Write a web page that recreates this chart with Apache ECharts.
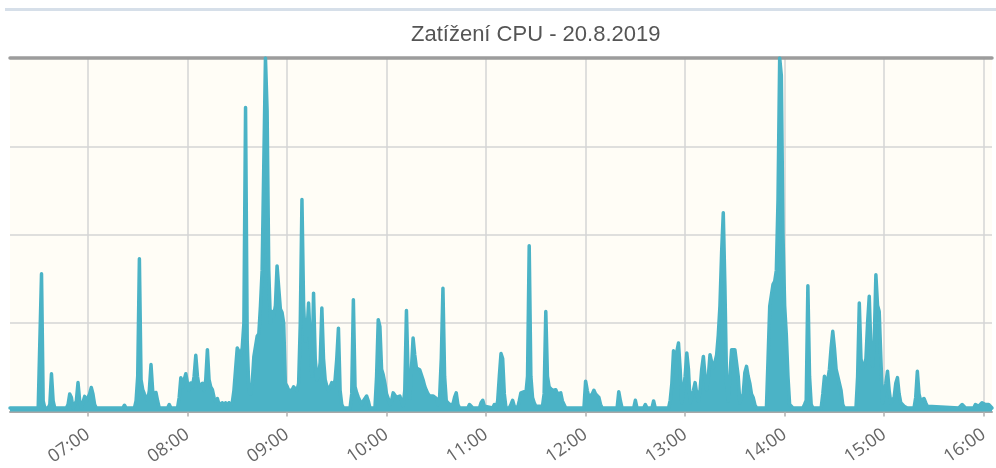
<!DOCTYPE html>
<html>
<head>
<meta charset="utf-8">
<script src="https://cdn.jsdelivr.net/npm/echarts@6/dist/echarts.min.js"></script>
<style>
html,body{margin:0;padding:0;background:#fff;}
#chart{width:996px;height:468px;}
</style>
</head>
<body>
<div id="chart"></div>
<script>
const chartTitle = 'Zatížení CPU - 20.8.2019';
const day = '2019-08-20';
const axisStart = '06:13';
const axisEnd = '16:05';
const yMax = 100;
const yStep = 25;

// [time, CPU load]
const cpuSamples = [
['06:13',1],['06:30',1],['06:31',1.5],['06:32',39],['06:33',3],['06:34',1],['06:36',1],['06:37',2],['06:38',10.7],['06:39',3],['06:40',1],
['06:47',1],['06:48',2],['06:49',5],['06:50',4],['06:51',1],['06:52',1],['06:53',3],['06:54',8.2],['06:55',3],['06:56',1],['06:57',1],['06:58',4.3],['06:59',3],
['07:00',4],['07:01',5],['07:02',6.8],['07:03',5],['07:04',2],['07:05',1],['07:21',1],['07:22',1.8],['07:23',1],['07:28',1],['07:29',3],['07:30',10],['07:31',43.2],['07:32',9],['07:33',6.2],['07:34',5],['07:35',4],['07:36',3],['07:37',6],['07:38',13.3],['07:39',6],['07:40',4],['07:41',5.4],['07:42',3],['07:43',1],['07:48',1],['07:49',2],['07:50',1],
['07:54',1],['07:55',4],['07:56',9.6],['07:57',7],['07:58',9],['07:59',10.7],['08:00',8],['08:01',6],['08:02',8.1],['08:03',7],['08:04',10],['08:05',15.9],['08:06',10],['08:07',7],['08:08',7.5],['08:09',8],['08:10',6],['08:11',9],['08:12',17.5],['08:13',9],['08:14',7],['08:15',6.2],['08:16',4],['08:17',3],['08:18',3.7],['08:19',2],['08:20',1.5],['08:21',2.5],['08:22',1.5],['08:23',2.5],['08:24',1],['08:25',2.5],['08:26',1.5],['08:27',2.5],
['08:28',6],['08:29',12],['08:30',18],['08:31',17],['08:32',16],['08:33',18],['08:34',25],['08:35',86],['08:36',20],['08:37',6],['08:38',5],['08:39',8],['08:40',15.5],['08:41',16],['08:42',21.3],['08:43',22],['08:44',30],['08:45',40],['08:46',70],['08:47',100],['08:48',85],['08:49',40],['08:50',25],['08:51',28.3],['08:52',27],['08:53',30],['08:54',41.2],['08:55',35],['08:56',29],['08:57',28],['08:58',25],['08:59',8],
['09:00',7.2],['09:01',6],['09:02',6.2],['09:03',6],['09:04',7],['09:05',7.5],['09:06',6],['09:07',8],['09:08',25],['09:09',60],['09:10',30],['09:11',20],['09:12',22],['09:13',30.7],['09:14',20],['09:15',10],['09:16',33.5],['09:17',15],['09:18',9],['09:19',10],['09:20',14],['09:21',29.3],['09:22',15],['09:23',9],['09:24',7.2],['09:25',6],['09:26',7],['09:27',8.2],['09:28',7],['09:29',9],['09:30',15],['09:31',23.6],['09:32',6],['09:33',2],['09:34',1],
['09:38',1],['09:39',5],['09:40',31.6],['09:41',7],['09:42',5.3],['09:43',4],['09:44',3],['09:45',2],['09:46',3],['09:47',2.5],['09:48',4.4],['09:49',3],['09:50',1],['09:53',1],['09:54',10],['09:55',26],['09:56',24],['09:57',12],['09:58',10.4],['09:59',8],
['10:00',5],['10:01',3.7],['10:02',2],['10:03',3],['10:04',5.3],['10:05',5],['10:06',4],['10:07',4],['10:08',4.4],['10:09',3],['10:10',1.5],['10:11',6],['10:12',28.6],['10:13',10],['10:14',3.7],['10:15',12],['10:16',20.8],['10:17',16],['10:18',12.3],['10:19',12],['10:20',11.8],['10:21',11.4],['10:22',9],['10:23',7.2],['10:24',6],['10:25',5],['10:26',4.4],['10:27',4.5],['10:28',4.4],['10:29',4],['10:30',3.7],['10:31',2],['10:32',4],['10:33',15],['10:34',34.9],['10:35',10],['10:36',3],['10:37',3],['10:38',2],['10:39',1.5],['10:40',2],['10:41',4],['10:42',5.3],['10:43',2],['10:44',1],
['10:49',1],['10:50',2],['10:51',1.5],['10:52',1],['10:56',1],['10:57',2.5],['10:58',3.2],['10:59',1.5],['11:00',1],['11:04',1],['11:05',2],['11:06',1],['11:07',3],['11:08',10],['11:09',16.4],['11:10',15],['11:11',5],['11:12',1],['11:14',1],['11:15',2],['11:16',3.2],['11:17',1.5],['11:18',1],['11:19',1],['11:20',3],['11:21',5.3],['11:22',5],['11:23',5.6],['11:24',5],['11:25',10],['11:26',46.9],['11:27',10],['11:28',4],['11:29',2.5],['11:30',1.5],
['11:34',1.5],['11:35',5],['11:36',28.3],['11:37',10],['11:38',7],['11:39',6.6],['11:40',6],['11:41',6],['11:42',6.2],['11:43',5],['11:44',5.3],['11:45',5.3],['11:46',3],['11:47',2],['11:48',1],
['11:59',1],['12:00',8.6],['12:01',6],['12:02',4],['12:03',4],['12:04',5],['12:05',6],['12:06',5],['12:07',5],['12:08',4],['12:09',2],['12:10',1],['12:19',1],['12:20',5.6],['12:21',3],['12:22',1],['12:29',1],['12:30',3.2],['12:31',1],['12:35',1],['12:36',2],['12:37',1],['12:40',1],['12:41',3],['12:42',1],
['12:50',1],['12:51',3.2],['12:52',8],['12:53',17.2],['12:54',15],['12:55',17],['12:56',19.4],['12:57',12],['12:58',2.5],['12:59',3],['13:00',10],['13:01',16.6],['13:02',12],['13:03',2.5],['13:04',3],['13:05',6],['13:06',8.2],['13:07',5],['13:08',3],['13:09',6],['13:10',12],['13:11',15.6],['13:12',10],['13:13',6.2],['13:14',10],['13:15',16.1],['13:16',14],['13:17',12.3],['13:18',14],['13:19',16],['13:20',21.7],['13:21',30],['13:22',45],['13:23',56.2],['13:24',35],['13:25',8],['13:26',3],['13:27',10],['13:28',17.5],['13:29',17],['13:30',17.5],['13:31',17.5],['13:32',10],['13:33',2.5],['13:34',3],['13:35',5],['13:36',11],['13:37',12.8],['13:38',10],['13:39',8],['13:40',5],['13:41',4],['13:42',2],['13:43',1],
['13:49',1],['13:50',15],['13:51',29.8],['13:52',30],['13:53',36],['13:54',36.8],['13:55',40],['13:56',60],['13:57',100],['13:58',95],['13:59',50],['14:00',30],['14:01',21.7],['14:02',10],['14:03',2],['14:04',1.5],['14:05',1],
['14:11',1],['14:12',2],['14:13',3.2],['14:14',35.6],['14:15',10],['14:16',2],['14:17',1],['14:22',1],['14:23',5],['14:24',10],['14:25',8],['14:26',9],['14:27',12],['14:28',18],['14:29',22.7],['14:30',18],['14:31',12],['14:32',10],['14:33',10.4],['14:34',6],['14:35',2],['14:36',1],
['14:43',1],['14:44',10],['14:45',30.7],['14:46',15],['14:47',12.3],['14:48',13],['14:49',15],['14:50',25],['14:51',32.6],['14:52',18],['14:53',13],['14:54',20],['14:55',38.7],['14:56',30],['14:57',28.3],['14:58',15],['14:59',2.5],['15:00',3],['15:01',8],['15:02',11.4],['15:03',6],['15:04',2.5],['15:05',2],['15:06',4],['15:07',8],['15:08',9.6],['15:09',5],['15:10',2.5],['15:11',2],['15:12',1.5],['15:13',2],['15:14',1],
['15:18',1],['15:19',4],['15:20',11.4],['15:21',5],['15:22',3],['15:23',3],['15:24',3.7],['15:25',2.5],['15:26',1.5],['15:27',1],
['15:45',1],['15:46',1.5],['15:47',2],['15:48',1.5],['15:49',1],['15:54',1],['15:55',2],['15:56',2],['15:57',1.5],['15:58',2],['15:59',2.5],['16:00',2.5],['16:01',2],['16:02',1.5],['16:03',2],['16:05',1]
];

const HOUR = 3600 * 1000;
const chart = echarts.init(document.getElementById('chart'), null, {renderer: 'canvas'});
chart.setOption({
  animation: false,
  backgroundColor: '#ffffff',
  title: {
    text: chartTitle,
    left: 406,
    top: 19,
    textStyle: {color: '#555555', fontSize: 22, fontWeight: 'normal', fontFamily: 'Liberation Sans, Arial, sans-serif'}
  },
  graphic: [{
    type: 'rect', left: 5, top: 8, shape: {width: 991, height: 3}, style: {fill: '#d6dfe9'}, silent: true
  }],
  grid: {left: 10, right: 4, top: 58, bottom: 56, show: true, backgroundColor: '#fffdf6', borderWidth: 0},
  xAxis: [{
    type: 'time',
    min: day + ' ' + axisStart,
    max: day + ' ' + axisEnd,
    minInterval: HOUR,
    maxInterval: HOUR,
    splitNumber: 10,
    axisLine: {show: true, lineStyle: {color: '#a8a8a8', width: 2}},
    axisTick: {show: true, length: 5, lineStyle: {color: '#b0b0b0', width: 1.5}},
    splitLine: {show: true, showMinLine: false, showMaxLine: false, lineStyle: {color: '#d4d4d4', width: 1.5}},
    axisLabel: {
      rotate: 35, margin: 21, color: '#666666', fontSize: 18, fontFamily: 'Open Sans, sans-serif',
      showMinLabel: false, showMaxLabel: false,
      formatter: function (v) { return echarts.time.format(v, '{HH}:{mm}', false); }
    }
  }, {
    type: 'value', position: 'top', min: 0, max: 1,
    axisLine: {show: true, lineStyle: {color: '#9c9c9c', width: 3.5}},
    axisTick: {show: false}, axisLabel: {show: false}, splitLine: {show: false}
  }],
  yAxis: {
    type: 'value', min: 0, max: yMax, interval: yStep,
    axisLine: {show: false}, axisTick: {show: false}, axisLabel: {show: false},
    splitLine: {show: true, lineStyle: {color: '#d4d4d4', width: 1.5}}
  },
  series: [{
    type: 'line',
    xAxisIndex: 0,
    data: cpuSamples.map(function (p) { return [day + ' ' + p[0], p[1]]; }),
    showSymbol: false,
    smooth: false,
    lineStyle: {color: '#4bb3c6', width: 3.5, join: 'round', cap: 'round'},
    areaStyle: {color: '#4bb3c6', opacity: 1},
    itemStyle: {color: '#4bb3c6'}
  }]
});
</script>
</body>
</html>
